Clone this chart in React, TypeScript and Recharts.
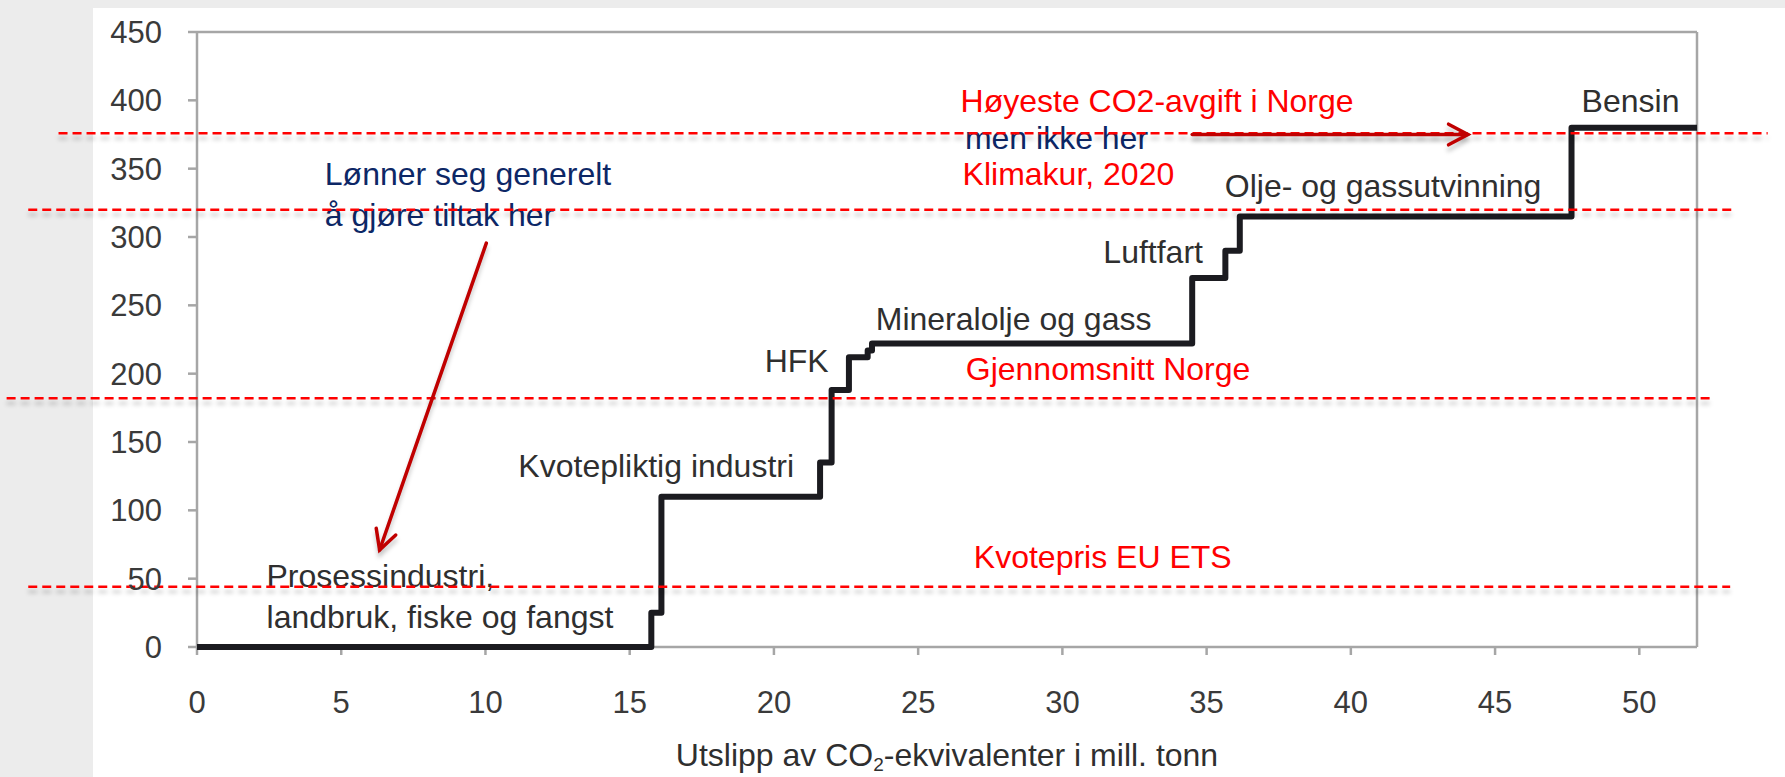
import { LineChart, Line, XAxis, YAxis, ReferenceLine, ReferenceDot } from 'recharts'

// marginal abatement cost curve, mill. tonn CO2-eq vs kr/tonn
const emissions = [0, 15.75, 16.1, 21.6, 22.0, 22.6, 23.25, 23.4, 34.5, 35.65, 36.15, 47.65, 52]
const costs = [0, 25, 110, 135, 188, 212, 217, 222, 270, 290, 315, 380, 380]
const xTicks = [0, 5, 10, 15, 20, 25, 30, 35, 40, 45, 50]
const yTicks = [0, 50, 100, 150, 200, 250, 300, 350, 400, 450]
const priceLevels = [376, 320, 182, 44]

const sectorLabels = [
  ['Prosessindustri,', 'landbruk, fiske og fangst'],
  ['Kvotepliktig industri'],
  ['HFK'],
  ['Mineralolje og gass'],
  ['Luftfart'],
  ['Olje- og gassutvinning'],
  ['Bensin'],
]
const priceLabels = [['Høyeste CO2-avgift i Norge'], ['Klimakur, 2020'], ['Gjennomsnitt Norge'], ['Kvotepris EU ETS']]
const commentLabels = [['Lønner seg generelt', 'å gjøre tiltak her'], ['men ikke her']]

// layout (data coordinates of text baselines / line ends)
const sectorAt = [[2.41, 43.7], [11.14, 124.2], [19.68, 201.1], [23.53, 232.1], [31.42, 280.9], [35.63, 329.2], [48.0, 391.4]]
const priceAt = [[26.47, 391.1], [26.54, 338.2], [26.65, 195.5], [26.93, 57.6]]
const commentAt = [[4.43, 338.2], [26.62, 364.3]]
const levelSpans = [[-4.8, 54.45], [-5.85, 53.35], [-6.6, 52.6], [-5.85, 53.15]]
const arrows = [
  [{ x: 10.03, y: 295.5 }, { x: 6.33, y: 71 }],
  [{ x: 34.5, y: 375 }, { x: 44.06, y: 375 }],
]

const data = emissions.map((x, i) => ({ x, cost: costs[i] }))

const FONT = '"Liberation Sans", Arial, Helvetica, sans-serif'
const AXIS = '#a6a6a6'
const TEXT = '#2f2f2f'
const RED = '#ff0000'
const NAVY = '#0d2766'
const ARROW = '#c00000'
const SHADOW = 'drop-shadow(0px 5px 2px rgba(0,0,0,0.22))'

const noteShape = (lines: string[], color: string) => (p: any) => (
  <text x={p.cx} y={p.cy} fill={color} fontSize={32} fontFamily={FONT}>
    {lines.map((l, i) => (
      <tspan key={i} x={p.cx} dy={i === 0 ? 0 : 41}>{l}</tspan>
    ))}
  </text>
)

const dashedShape = (p: any) => (
  <line x1={p.x1} y1={p.y1} x2={p.x2} y2={p.y2} stroke={RED} strokeWidth={2.5} strokeDasharray="9 5" style={{ filter: SHADOW }} />
)

const arrowShape = (p: any) => {
  const ang = Math.atan2(p.y2 - p.y1, p.x2 - p.x1)
  const len = 22
  const spread = (28 * Math.PI) / 180
  const a1 = ang + Math.PI - spread
  const a2 = ang + Math.PI + spread
  return (
    <g style={{ filter: SHADOW }} stroke={ARROW} strokeWidth={3.5} fill="none" strokeLinecap="round">
      <line x1={p.x1} y1={p.y1} x2={p.x2} y2={p.y2} />
      <polyline
        points={`${p.x2 + len * Math.cos(a1)},${p.y2 + len * Math.sin(a1)} ${p.x2},${p.y2} ${p.x2 + len * Math.cos(a2)},${p.y2 + len * Math.sin(a2)}`}
        strokeLinejoin="miter"
      />
    </g>
  )
}

const AxisTitle = (props: any) => {
  const vb = props.viewBox ?? { x: 197, y: 647, width: 1500, height: 130 }
  return (
    <text x={vb.x + vb.width / 2} y={vb.y + 119} textAnchor="middle" fontSize={32} fill={TEXT} fontFamily={FONT}>
      Utslipp av CO<tspan fontSize={19} dy={5}>2</tspan>
      <tspan dy={-5}>-ekvivalenter i mill. tonn</tspan>
    </text>
  )
}

const tickStyle = { fill: '#3a3a3a', fontSize: 31, fontFamily: FONT }

export default function App() {
  return (
    <div style={{ position: 'absolute', left: 0, top: 0, width: 1785, height: 777, background: '#ececec', overflow: 'hidden' }}>
      <div style={{ position: 'absolute', left: 93, top: 8, right: 0, bottom: 0, background: '#ffffff' }} />
      <div style={{ position: 'absolute', left: 0, top: 0 }}>
        <LineChart width={1785} height={777} data={data} margin={{ top: 32, right: 0, bottom: 0, left: 0 }} style={{ fontFamily: FONT }}>
          <XAxis
            type="number"
            dataKey="x"
            domain={[0, 52]}
            ticks={xTicks}
            height={130}
            tickSize={8}
            tickMargin={36}
            tick={tickStyle}
            axisLine={{ stroke: AXIS, strokeWidth: 2.5 }}
            tickLine={{ stroke: AXIS, strokeWidth: 2.5 }}
            label={<AxisTitle />}
          />
          <YAxis
            yAxisId="left"
            domain={[0, 450]}
            ticks={yTicks}
            width={197}
            tickSize={9}
            tickMargin={26}
            tick={tickStyle}
            axisLine={{ stroke: AXIS, strokeWidth: 2.5 }}
            tickLine={{ stroke: AXIS, strokeWidth: 2.5 }}
          />
          <YAxis
            yAxisId="right"
            orientation="right"
            domain={[0, 450]}
            ticks={yTicks}
            width={88}
            tickSize={9}
            tickMargin={23}
            tick={{ ...tickStyle, textAnchor: 'start' }}
            axisLine={{ stroke: AXIS, strokeWidth: 2.5 }}
            tickLine={{ stroke: AXIS, strokeWidth: 2.5 }}
          />
          <ReferenceLine yAxisId="left" y={450} stroke={AXIS} strokeWidth={2.5} />
          <Line
            yAxisId="left"
            type="stepAfter"
            dataKey="cost"
            stroke="#1b1b20"
            strokeWidth={6}
            strokeLinejoin="round"
            dot={false}
            activeDot={false}
            isAnimationActive={false}
            zIndex={600}
          />
          {sectorLabels.map((lines, i) => (
            <ReferenceDot key={'s' + i} yAxisId="left" x={sectorAt[i][0]} y={sectorAt[i][1]} r={0} ifOverflow="visible" shape={noteShape(lines, TEXT)} zIndex={700} />
          ))}
          {priceLabels.map((lines, i) => (
            <ReferenceDot key={'p' + i} yAxisId="left" x={priceAt[i][0]} y={priceAt[i][1]} r={0} ifOverflow="visible" shape={noteShape(lines, RED)} zIndex={700} />
          ))}
          {commentLabels.map((lines, i) => (
            <ReferenceDot key={'c' + i} yAxisId="left" x={commentAt[i][0]} y={commentAt[i][1]} r={0} ifOverflow="visible" shape={noteShape(lines, NAVY)} zIndex={700} />
          ))}
          {priceLevels.map((lvl, i) => (
            <ReferenceLine
              key={'l' + i}
              yAxisId="left"
              ifOverflow="visible"
              segment={[{ x: levelSpans[i][0], y: lvl }, { x: levelSpans[i][1], y: lvl }]}
              shape={dashedShape}
              zIndex={800}
            />
          ))}
          {arrows.map((seg, i) => (
            <ReferenceLine key={'a' + i} yAxisId="left" ifOverflow="visible" segment={seg} shape={arrowShape} zIndex={900} />
          ))}
        </LineChart>
      </div>
    </div>
  )
}
